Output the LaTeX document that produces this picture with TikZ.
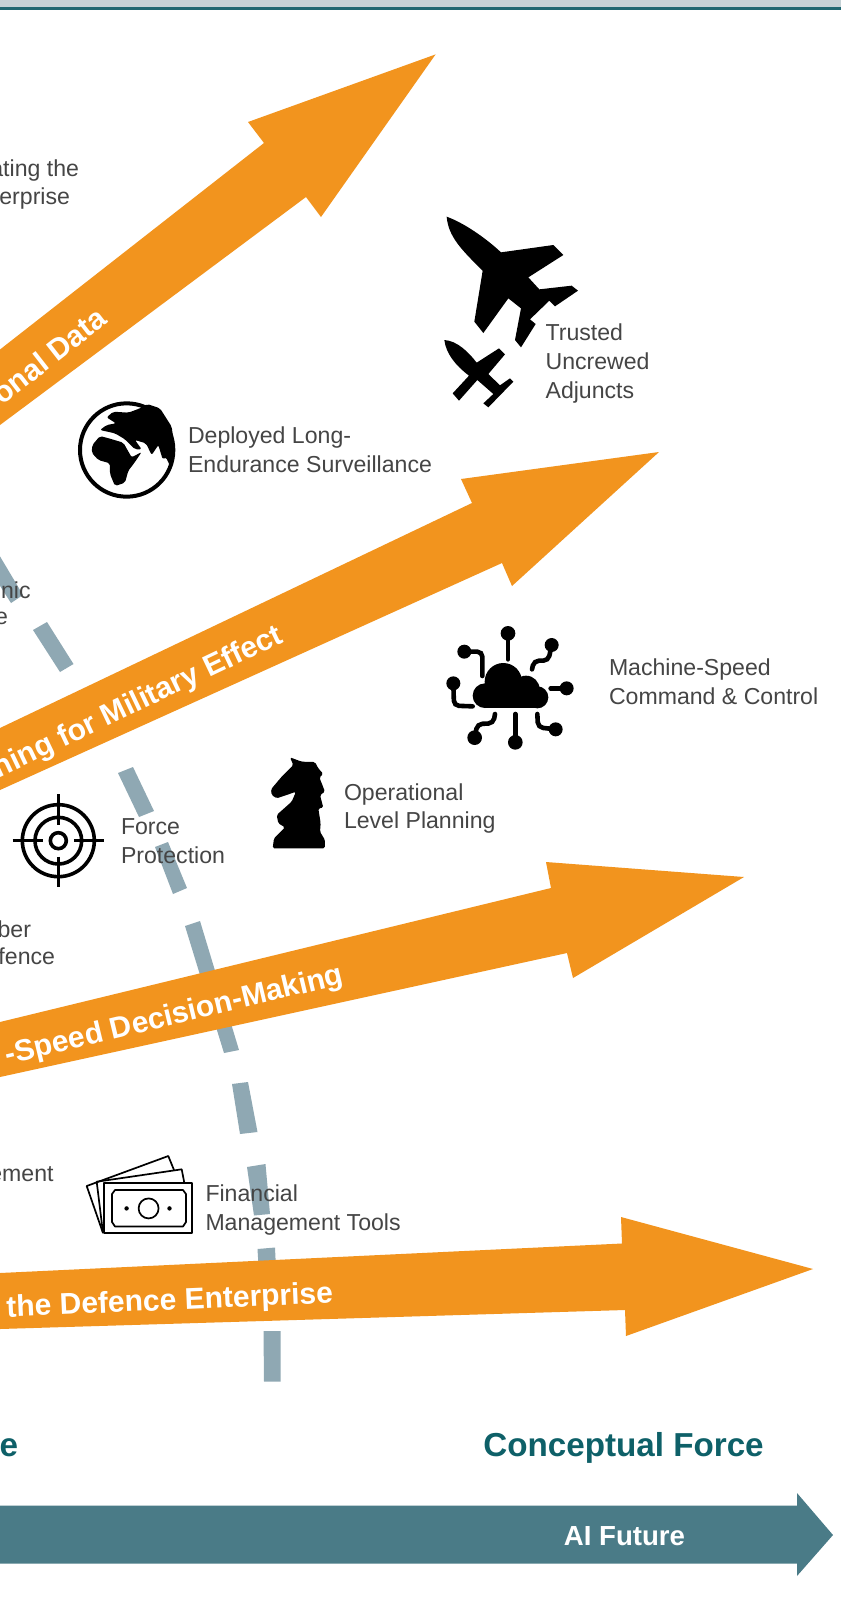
\documentclass[tikz,border=0pt]{standalone}
\usepackage{fontspec}
\setmainfont{Liberation Sans}
\definecolor{orangeA}{HTML}{F2941E}
\definecolor{tealA}{HTML}{4A7B87}
\definecolor{dashA}{HTML}{8FA8B3}
\definecolor{bandA}{HTML}{C5D1D5}
\definecolor{lineA}{HTML}{1F6670}
\definecolor{titleA}{HTML}{0E6068}
\definecolor{txtA}{HTML}{454545}
\tikzset{
  flow/.style={fill=orangeA,draw=none},
  dashbar/.style={fill=dashA,draw=none},
  lbl/.style={inner sep=0pt,outer sep=0pt,anchor=west,align=left,text=txtA,font=\fontsize{11.55}{14.3}\selectfont},
  lblr/.style={inner sep=0pt,outer sep=0pt,anchor=east,text=txtA,font=\fontsize{11.55}{14.3}\selectfont},
  flowtxt/.style={inner sep=0pt,outer sep=0pt,anchor=east,text=white,font=\fontsize{15}{18}\selectfont\bfseries},
  titletxt/.style={inner sep=0pt,outer sep=0pt,text=titleA,font=\fontsize{16.6}{20}\selectfont\bfseries},
  icon/.style={fill=black,draw=none},
  iconline/.style={draw=black,fill=none,line cap=round},
}
\begin{document}
\begin{tikzpicture}[x=0.5pt,y=-0.5pt]
\useasboundingbox (0,0) rectangle (841,1614);
\clip (0,0) rectangle (841,1614);
\fill[white] (0,0) rectangle (841,1614);
% top band
\fill[bandA] (0,0) rectangle (841,7);
\fill[lineA] (0,7) rectangle (841,9.5);
% dashed path (behind)
\fill[dashbar] (-5,548) -- (23,595) -- (11,603) -- (-5,578) -- cycle;
\fill[dashbar] (33,630) -- (47,622) -- (73.5,664) -- (60,672) -- cycle;
\fill[dashbar] (118,773) -- (133,767) -- (154,811) -- (139,817) -- cycle;
\fill[dashbar] (155,847) -- (168,842) -- (187,888) -- (173,894) -- cycle;
\fill[dashbar] (185,926) -- (200,921) -- (239,1050) -- (224,1053) -- cycle;
\fill[dashbar] (232,1084) -- (248,1082) -- (257.5,1132) -- (240,1134) -- cycle;
\fill[dashbar] (247,1167) -- (265.5,1164) -- (270,1214) -- (254,1215.5) -- cycle;
\fill[dashbar] (257.5,1249) -- (275,1247.5) -- (277,1290) -- (260,1290) -- cycle;
\fill[dashbar] (263.5,1331) -- (280.5,1331) -- (280.5,1381.5) -- (264,1381.5) -- cycle;
% orange arrows
\fill[flow] (0,349.5) -- (264,143) -- (248,122) -- (435.6,54.4) -- (321,217) -- (306,197) -- (0,425) -- cycle;
\fill[flow] (0,728) -- (472,503) -- (461,479) -- (659,452) -- (512,586) -- (502,563) -- (0,790) -- cycle;
\fill[flow] (0,1022) -- (551,888) -- (546,862) -- (744,877) -- (573,978) -- (567,953) -- (0,1077) -- cycle;
\fill[flow] (0,1273) -- (622,1243.5) -- (621,1217) -- (813,1269) -- (626,1336) -- (625,1310) -- (0,1329) -- cycle;
% teal arrow
\fill[tealA] (0,1505.7) -- (797,1505.7) -- (797,1493) -- (833,1535) -- (797,1576) -- (797,1563.7) -- (0,1563.7) -- cycle;
% flow labels
\node[flowtxt,rotate=38] (fa) at (102,314) {onal Data};
\node[flowtxt,rotate=25.5] (fb) at (281,635) {ning for Military Effect};
\node[flowtxt,rotate=13.5] (fc) at (343,976) {-Speed Decision-Making};
\node[flowtxt,rotate=2.5] (fd) at (333,1295) {the Defence Enterprise};
% titles
\node[titletxt,anchor=east] (ta) at (18,1448) {e};
\node[titletxt,anchor=center] (tb) at (623.5,1448) {Conceptual Force};
\node[inner sep=0pt,text=white,font=\fontsize{13.8}{16}\selectfont\bfseries] (tc) at (624.5,1536) {AI Future};
% labels
\node[lblr] (la) at (79,171) {ating the};
\node[lblr] (lb) at (70,199) {erprise};
\node[lblr] (lc) at (30.6,590) {nic};
\node[lblr] (ld) at (8,618) {e};
\node[lblr] (le) at (31,929) {ber};
\node[lblr] (lf) at (55,956.5) {fence};
\node[lblr] (lg) at (53.6,1174) {ement};
\node[lbl] (lh) at (188,449.5) {Deployed Long-\\Endurance Surveillance};
\node[lbl] (li) at (545.6,363.5) {Trusted\\Uncrewed\\Adjuncts};
\node[lbl] (lj) at (609,682) {Machine-Speed\\Command \& Control};
\node[lbl] (lk) at (344,808.5) {Operational\\Level Planning};
\node[lbl] (ll) at (121,841) {Force\\Protection};
\node[lbl] (lm) at (205.5,1210) {Financial\\Management Tools};
% large jet
\begin{scope}[shift={(420,200)},scale=1/3]
\fill[icon] (80,50) .. controls (130,68) and (195,112) .. (243,157) -- (400,135) -- (430,165) -- (325,232) -- (358,268) -- (455,257) -- (474,272) -- (405,319) -- (388,302) -- (330,358) -- (347,372) -- (303,442) -- (285,420) -- (303,325) -- (265,295) -- (190,399) -- (163,365) -- (188,212) .. controls (125,150) and (85,110) .. (80,50) -- cycle;
% small jet
\fill[icon] (73,420) .. controls (110,422) and (145,455) .. (170,488) -- (237,445) -- (255,463) -- (205,522) -- (240,556) -- (270,535) -- (280,545) -- (205,622) -- (190,610) -- (220,582) -- (172,540) -- (117,602) -- (98,580) -- (147,527) .. controls (105,495) and (78,460) .. (73,420) -- cycle;
\end{scope}
% globe
\begin{scope}[shift={(60,380)},scale=1/3]
\draw[black,line width=2pt] (200,210) circle (140);
\fill[icon,rounded corners=1pt] (120,150) -- (140,135) -- (168,130) -- (140,112) -- (160,95) -- (205,98) -- (240,85) -- (262,72) -- (300,85) -- (335,140) -- (345,215) -- (332,262) -- (318,232) -- (308,238) -- (295,195) -- (275,225) -- (258,190) -- (225,180) -- (245,208) -- (225,208) -- (195,178) -- (165,160) -- cycle;
\fill[icon,rounded corners=1pt] (97,195) -- (120,168) -- (150,176) -- (190,188) -- (215,232) -- (245,216) -- (222,250) -- (205,272) -- (195,308) -- (165,318) -- (150,282) -- (150,250) -- (115,240) -- (95,218) -- cycle;
\end{scope}
% cloud network
\begin{scope}[shift={(430,610)},scale=1/3]
\fill[icon] (165,257) circle (37);
\fill[icon] (220,215) circle (56);
\fill[icon] (288,238) circle (41);
\fill[icon] (322,262) circle (33);
\fill[icon] (165,240) rectangle (322,295);
\foreach \cx/\cy/\cr in {234/70/22,103/125/21,365/105/21,70/220/21,410/235/21,256/397/22,134/383/22,377/358/21}
  \fill[icon] (\cx,\cy) circle (\cr);
\draw[iconline,line width=2.3pt] (234,70) -- (234,148);
\draw[iconline,line width=2.3pt,rounded corners=2.5pt] (103,125) -- (157,125) -- (157,198);
\draw[iconline,line width=2.3pt,rounded corners=2.5pt] (365,105) -- (355,152) -- (312,152) -- (306,178);
\draw[iconline,line width=2.3pt,rounded corners=2.5pt] (70,220) -- (72,287) -- (128,289);
\draw[iconline,line width=2.3pt] (362,235) -- (410,235);
\draw[iconline,line width=2.3pt] (256,312) -- (256,395);
\draw[iconline,line width=2.3pt,rounded corners=2.5pt] (195,312) -- (190,340) -- (142,342) -- (134,383);
\draw[iconline,line width=2.3pt,rounded corners=2.5pt] (322,312) -- (324,352) -- (377,358);
\end{scope}
% target, knight
\begin{scope}[shift={(0,740)},scale=1/3]
\draw[black,line width=1.8pt] (175,302) circle (108);
\draw[black,line width=1.8pt] (175,302) circle (70);
\draw[black,line width=1.8pt] (175,302) circle (24);
\draw[black,line width=1.8pt] (38,302) -- (128,302) (222,302) -- (313,302) (175,163) -- (175,255) (175,350) -- (175,440);
\fill[icon,rounded corners=0.8pt] (870,52) -- (905,65) -- (945,66) -- (955,85) -- (970,102) -- (958,112) -- (975,155) -- (960,165) -- (970,203) -- (955,205) -- (962,250) -- (960,275) -- (975,300) -- (975,325) -- (818,325) -- (822,295) -- (855,262) -- (835,250) -- (830,225) -- (875,185) -- (888,155) -- (860,165) -- (830,175) -- (815,165) -- (813,148) -- (845,110) -- (880,75) -- cycle;
\end{scope}
% money
\begin{scope}[line width=0.85pt,line join=round]
\draw[black] (103,1233) -- (86.7,1186) -- (168.3,1156) -- (174,1170);
\draw[black] (103,1233) -- (96.7,1181.7) -- (181.7,1169.3) -- (184.3,1182.7);
\draw[black,fill=white] (104,1182.7) rectangle (191.7,1233);
\draw[black] (115,1190) -- (183,1190) -- (186,1194) -- (186,1222) -- (183,1226.5) -- (115,1226.5) -- (112,1222) -- (112,1194) -- cycle;
\draw[black] (148.6,1208.4) ellipse (10 and 10);
\fill[black] (126.6,1208.4) circle (2.2);
\fill[black] (169.5,1208.4) circle (2.2);
\end{scope}
\end{tikzpicture}
\end{document}
